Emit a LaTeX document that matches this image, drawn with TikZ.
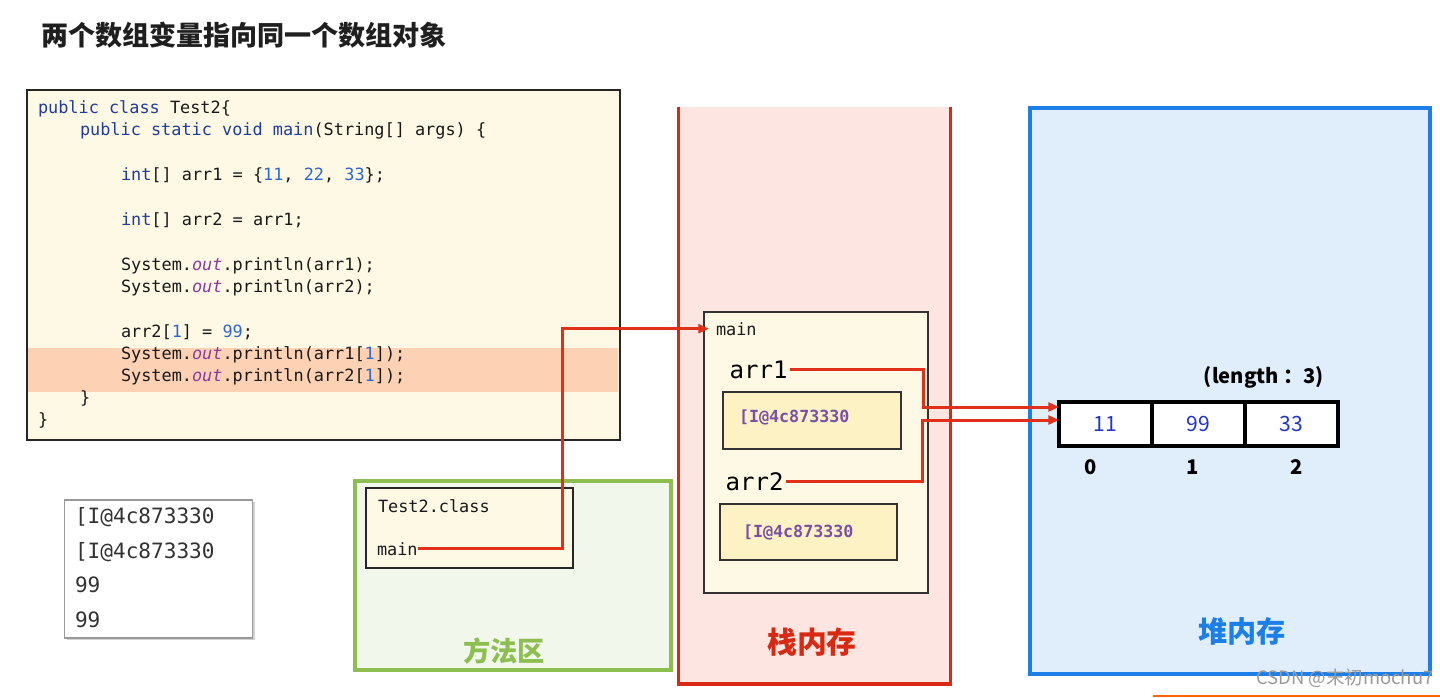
\documentclass[tikz,border=0pt]{standalone}
\usepackage{fontspec}
\setmonofont{DejaVu Sans Mono}
\newfontfamily\cjk{Noto Sans CJK SC}
\usetikzlibrary{positioning,arrows.meta,shadows}

\definecolor{codebg}{HTML}{FEF9E4}
\definecolor{hilite}{HTML}{FDD2B4}
\definecolor{keyblue}{HTML}{1F3C9E}
\definecolor{numblue}{HTML}{2F66D6}
\definecolor{outpurple}{HTML}{8A3A9C}
\definecolor{grnbd}{HTML}{8CBF50}
\definecolor{grnbg}{HTML}{F1F7EA}
\definecolor{redbd}{HTML}{D82A12}
\definecolor{redbg}{HTML}{FDE6E2}
\definecolor{blubd}{HTML}{1C7FE8}
\definecolor{blubg}{HTML}{E0EEFC}
\definecolor{valbg}{HTML}{FDF2C4}
\definecolor{valtx}{HTML}{7B4FA8}
\definecolor{ptrred}{HTML}{E0301A}
\definecolor{cellblue}{HTML}{2233D0}

\newcommand\codefont{\fontsize{9.6}{11}\selectfont\ttfamily}
\newcommand\kwd[1]{\textcolor{keyblue}{#1}}
\newcommand\numc[1]{\textcolor{numblue}{#1}}
\newcommand\outw{\textcolor{outpurple}{\itshape out}}

\begin{document}
\begin{tikzpicture}[x=0.02cm,y=-0.02cm,
        every node/.style={inner sep=0pt,outer sep=0pt},
        codeline/.style={anchor=base west,font=\codefont,text=black!90},
        outline/.style={anchor=base west,font=\fontsize{12}{14}\selectfont\ttfamily,text=black!80},
        valtext/.style={anchor=west,font=\fontsize{9.5}{11}\selectfont\ttfamily\bfseries,text=valtx},
        varname/.style={anchor=base west,inner sep=1.5pt,font=\fontsize{13.7}{16}\selectfont\ttfamily},
        cell/.style={draw,line width=1.8pt,fill=white,minimum width=1.86cm,minimum height=0.88cm,
            font=\cjk\fontsize{12}{14}\selectfont,text=cellblue},
        idx/.style={font=\cjk\bfseries\fontsize{11.5}{13}\selectfont},
        ptr/.style={draw=ptrred,line width=1.7pt,-{Triangle[length=6pt,width=5pt]}}
    ]
    \useasboundingbox (0,0) rectangle (1440,697);

    % title
    \node[anchor=west,font=\cjk\bfseries\fontsize{15.4}{18}\selectfont,text=black!88] (title) at (41,35)
        {两个数组变量指向同一个数组对象};

    % source code
    \node[draw=black!85,line width=1.2pt,fill=codebg,minimum width=11.86cm,minimum height=7cm] (code) at (323.5,265) {};
    \node[fill=hilite,minimum width=11.8cm,minimum height=0.88cm] (band) at (323,369.5) {};
    \node[codeline] (l1) at (38,113) {\kwd{public class} Test2\{};
    \node[codeline] (l2) at (80,135) {\kwd{public static void main}(String[] args) \{};
    \node[codeline] (l3) at (121,180) {\kwd{int}[] arr1 = \{\numc{11}, \numc{22}, \numc{33}\};};
    \node[codeline] (l4) at (121,225) {\kwd{int}[] arr2 = arr1;};
    \node[codeline] (l5) at (121,270) {System.\outw.println(arr1);};
    \node[codeline] (l6) at (121,292) {System.\outw.println(arr2);};
    \node[codeline] (l7) at (121,337) {arr2[\numc{1}] = \numc{99};};
    \node[codeline] (l8) at (121,359) {System.\outw.println(arr1[\numc{1}]);};
    \node[codeline] (l9) at (121,381) {System.\outw.println(arr2[\numc{1}]);};
    \node[codeline] (l10) at (80,403) {\}};
    \node[codeline] (l11) at (38,425) {\}};

    % console output
    \node[draw=black!40,line width=0.8pt,fill=white,minimum width=3.76cm,minimum height=2.76cm,
        drop shadow={shadow xshift=1.2pt,shadow yshift=-1.2pt,fill=black!35}] (console) at (158.5,569) {};
    \node[outline] (o1) at (75,523) {[I@4c873330};
    \node[outline] (o2) at (75,558) {[I@4c873330};
    \node[outline] (o3) at (75,592) {99};
    \node[outline] (o4) at (75,627) {99};

    % method area
    \node[draw=grnbd,line width=1.8pt,fill=grnbg,minimum width=6.32cm,minimum height=3.78cm] (method) at (513,575.5) {};
    \node[text=grnbd,font=\cjk\bfseries\fontsize{15.5}{18}\selectfont] (methodlbl) at (504,651) {方法区};
    \node[draw=black!85,line width=1pt,fill=codebg,minimum width=4.14cm,minimum height=1.6cm] (classbox) at (469.5,528) {};
    \node[codeline] (cname) at (378,512) {Test2.class};
    \node[codeline] (cmain) at (377,555) {main};

    % stack
    \node[fill=redbg,minimum width=5.44cm,minimum height=11.54cm] (stack) at (814.5,395.5) {};
    \draw[redbd,line width=2pt] (stack.north west) -- (stack.south west) -- (stack.south east) -- (stack.north east);
    \node[text=redbd,font=\cjk\bfseries\fontsize{17}{20}\selectfont] (stacklbl) at (812,642) {栈内存};
    \node[draw=black!80,line width=1pt,fill=codebg,minimum width=4.48cm,minimum height=5.62cm] (frame) at (816,452.5) {};
    \node[codeline] (fmain) at (716,335) {main};
    \node[varname] (arr1) at (727,378) {arr1};
    \node[draw=black!80,line width=1pt,fill=valbg,minimum width=3.56cm,minimum height=1.14cm] (v1) at (812,420.5) {};
    \node[valtext] (v1t) at (739,417) {[I@4c873330};
    \node[varname] (arr2) at (723,490) {arr2};
    \node[draw=black!80,line width=1pt,fill=valbg,minimum width=3.54cm,minimum height=1.12cm] (v2) at (808.5,532) {};
    \node[valtext] (v2t) at (743,532) {[I@4c873330};

    % heap
    \node[draw=blubd,line width=2pt,fill=blubg,minimum width=8cm,minimum height=11.32cm] (heap) at (1230,391) {};
    \node[text=blubd,font=\cjk\bfseries\fontsize{16.6}{20}\selectfont] (heaplbl) at (1242,631) {堆内存};
    \node[cell] (c0) at (1105.5,424) {11};
    \node[cell,right=0pt of c0] (c1) {99};
    \node[cell,right=0pt of c1] (c2) {33};
    \node[idx] (i0) at (1091,467) {0};
    \node[idx] (i1) at (1193,467) {1};
    \node[idx] (i2) at (1297,467) {2};
    \node[font=\cjk\bfseries\fontsize{11.5}{14}\selectfont] (len) at (1264,377) {(length ：3)};

    % references
    \draw[ptr,line width=2pt] (cmain.east) -- ++(145,0) |- ([xshift=-0.14cm]fmain.west);
    \draw[ptr] (arr1.east) -- ++(133,0) |- ([yshift=0.34cm]c0.west);
    \draw[ptr] (arr2.east) -- ++(136,0) |- ([yshift=0.08cm]c0.west);

    % watermark
    \node[text=black!40,font=\cjk\fontsize{10.5}{12}\selectfont] (mark) at (1345,678) {CSDN @末初mochu7};
    \draw[orange!80!red,line width=0.8pt] (1153,696) -- (1440,696);
\end{tikzpicture}
\end{document}
